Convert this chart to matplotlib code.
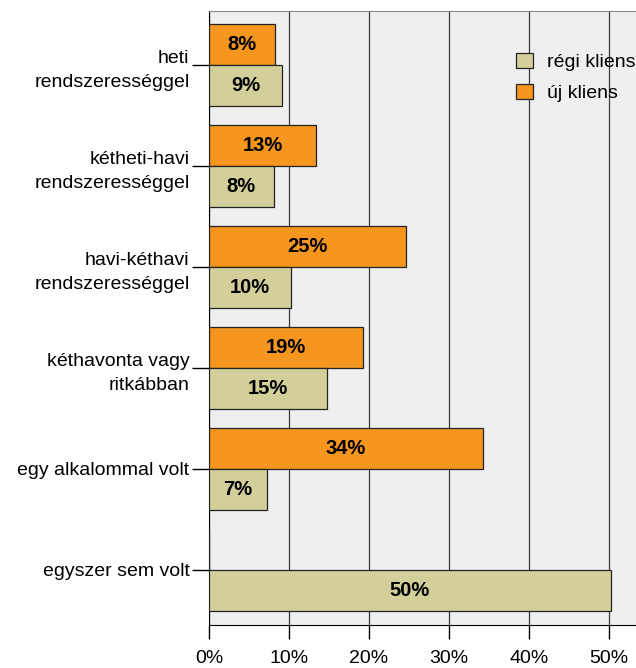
import matplotlib
matplotlib.use("Agg")
import matplotlib.pyplot as plt
import numpy as np

categories = ["heti\nrendszerességgel", "kétheti-havi\nrendszerességgel",
              "havi-kéthavi\nrendszerességgel", "kéthavonta vagy\nritkábban",
              "egy alkalommal volt", "egyszer sem volt"]
uj_kliens = [8.2, 13.4, 24.6, 19.3, 34.2, 0.0]
regi_kliens = [9.1, 8.1, 10.3, 14.8, 7.2, 50.2]
xticks = [0, 10, 20, 30, 40, 50]

plt.rcParams['font.family'] = ['Liberation Sans', 'DejaVu Sans']

fig = plt.figure(figsize=(6.36, 6.68), dpi=100)
ax = fig.add_axes([209/636, 43/668, 427/636, 614/668])
ax.set_facecolor('#efefef')

orange = '#F7961E'
khaki = '#D3CF9A'
h = 0.41
y = np.arange(len(categories))

b1 = ax.barh(y - h/2, uj_kliens, height=h, color=orange, edgecolor='#222222',
             linewidth=0.9, label='új kliens', zorder=3)
b2 = ax.barh(y + h/2, regi_kliens, height=h, color=khaki, edgecolor='#222222',
             linewidth=0.9, label='régi kliens', zorder=3)

for bars, vals in ((b1, uj_kliens), (b2, regi_kliens)):
    for rect, v in zip(bars, vals):
        if v > 0:
            ax.text(v / 2, rect.get_y() + rect.get_height() / 2, f"{v:.0f}%",
                    ha='center', va='center', fontsize=14.5, fontweight='bold',
                    zorder=4)

ax.set_xlim(0, 427/8)
ax.set_ylim(5.545, -0.535)
ax.set_xticks(xticks)
ax.set_xticklabels([f"{t}%" for t in xticks], fontsize=14)
ax.set_yticks(y)
ax.set_yticklabels(categories, fontsize=14, linespacing=1.55)
ax.tick_params(axis='x', length=10, width=1, pad=8, color='black')
ax.tick_params(axis='y', length=12, width=1, pad=2, color='black')
ax.xaxis.grid(True, color='#3a3a3a', linewidth=0.9, zorder=1)
ax.set_axisbelow(True)
ax.spines['top'].set_color('#888888')
ax.spines['right'].set_visible(False)
ax.spines['left'].set_color('black')
ax.spines['bottom'].set_color('black')

handles = [b2, b1]
leg = ax.legend(handles, ['régi kliens', 'új kliens'], loc='upper left',
                bbox_to_anchor=(0.719, 0.932), frameon=False, fontsize=14,
                handlelength=0.85, handleheight=0.85, handletextpad=0.75,
                labelspacing=0.65, borderaxespad=0, borderpad=0)

fig.savefig("out.png", dpi=100)
